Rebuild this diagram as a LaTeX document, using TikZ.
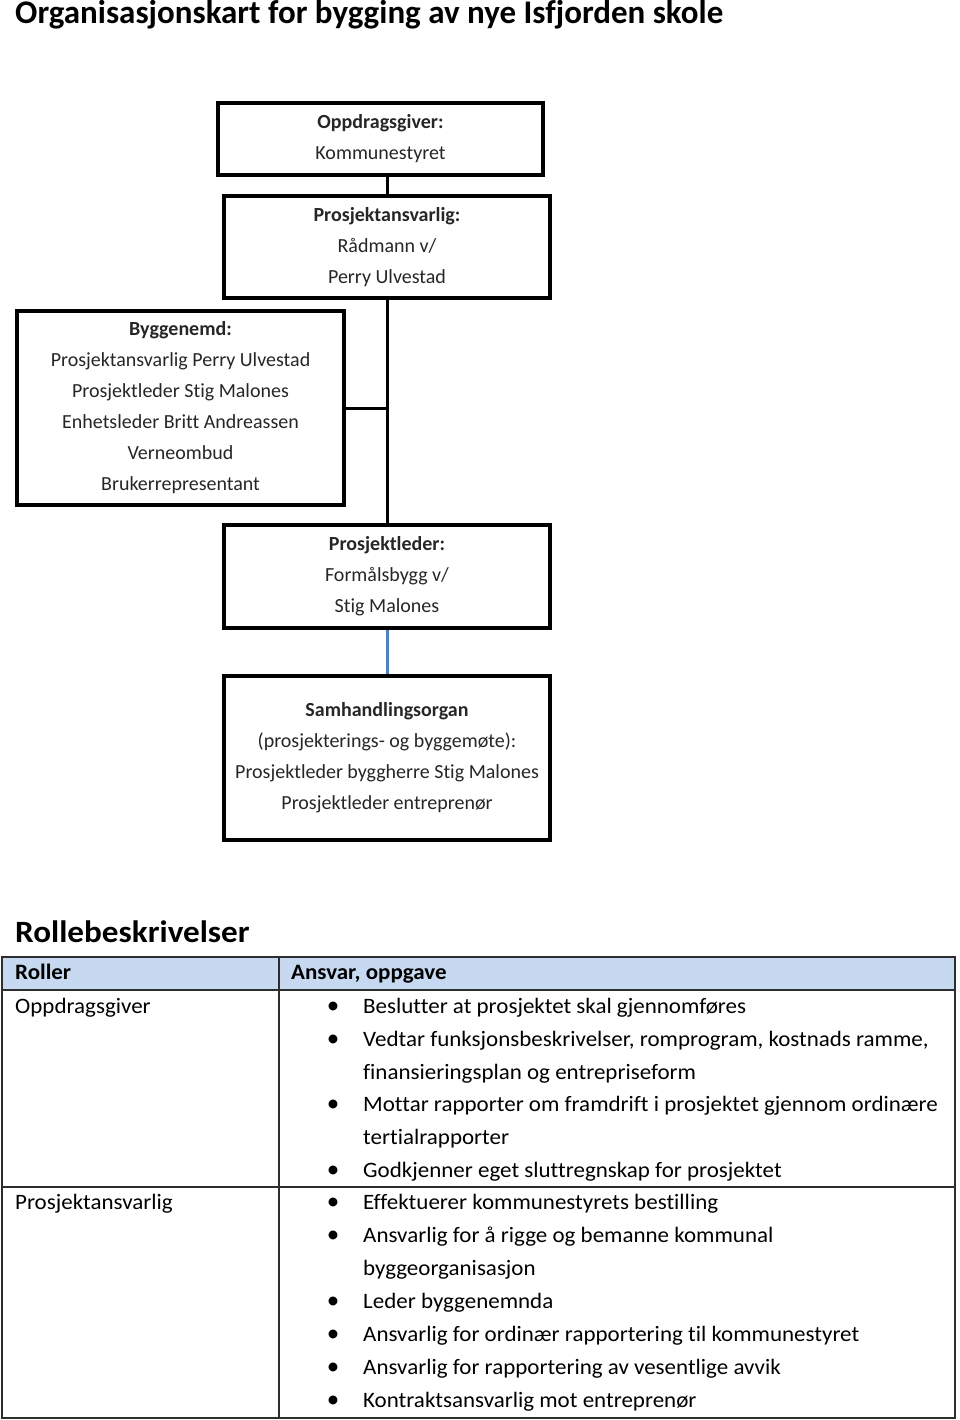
\documentclass[tikz,border=0pt]{standalone}
\usepackage{fontspec}
\setmainfont{Carlito}[Ligatures=NoCommon]
\newfontfamily\tablefont{Carlito}[FakeStretch=1.045, Ligatures=NoCommon]
\newfontfamily\headfont{Carlito}[FakeStretch=1.07, Ligatures=NoCommon]
\usetikzlibrary{positioning}

\definecolor{headfill}{RGB}{198,217,241}
\definecolor{linkblue}{RGB}{79,129,189}
\definecolor{rulegrey}{RGB}{45,45,45}

\tikzset{
  orgbox/.style={draw, line width=3.5pt, inner sep=0pt, align=center,
    text=black!85, font=\fontsize{20}{31}\selectfont},
  orgline/.style={line width=3pt},
  celltext/.style={anchor=base west, inner sep=0pt, font=\tablefont\fontsize{22}{25}\selectfont},
  bulletmark/.style={anchor=base, inner sep=0pt, font=\fontsize{25}{25}\selectfont},
  tablerule/.style={draw=rulegrey, line width=1.5pt}
}

\begin{document}
\begin{tikzpicture}[x=1pt,y=-1pt]
    \useasboundingbox (0,0) rectangle (960,1420);

    % Title
    \node[anchor=base west, inner sep=0pt, font=\bfseries\fontsize{33}{40}\selectfont]
        (title) at (15,24) {Organisasjonskart for bygging av nye Isfjorden skole};

    % Org chart
    \node[orgbox, minimum width=325pt, minimum height=72pt] (oppdrag) at (380.5,139)
        {\textbf{Oppdragsgiver:}\\Kommunestyret};
    \node[orgbox, minimum width=326pt, minimum height=102pt] (ansvarlig) at (387,247)
        {\textbf{Prosjektansvarlig:}\\Rådmann v/\\Perry Ulvestad};
    \node[orgbox, minimum width=327pt, minimum height=194pt] (byggenemd) at (180.5,408)
        {\textbf{Byggenemd:}\\Prosjektansvarlig Perry Ulvestad\\Prosjektleder Stig Malones\\
         Enhetsleder Britt Andreassen\\Verneombud\\Brukerrepresentant};
    \node[orgbox, minimum width=326pt, minimum height=103pt] (leder) at (387,576.5)
        {\textbf{Prosjektleder:}\\Formålsbygg v/\\Stig Malones};
    \node[orgbox, minimum width=326pt, minimum height=164pt] (samhandling) at (387,758)
        {\textbf{Samhandlingsorgan}\\(prosjekterings- og byggemøte):\\
         Prosjektleder byggherre Stig Malones\\Prosjektleder entreprenør};

    \draw[orgline] (oppdrag.south -| ansvarlig.north) -- (ansvarlig.north);
    \draw[orgline] (ansvarlig.south) -- (leder.north);
    \draw[orgline] (byggenemd.east) -- (byggenemd.east -| ansvarlig.south);
    \draw[orgline, linkblue] (leder.south) -- (samhandling.north);

    % Role table
    \node[anchor=base west, inner sep=0pt, font=\headfont\bfseries\fontsize{31}{36}\selectfont]
        (rolletitle) at (15,942) {Rollebeskrivelser};

    \fill[headfill] (2,957) rectangle (955,990);
    \draw[tablerule] (2,957) rectangle (955,1418);
    \draw[tablerule] (2,990) -- (955,990);
    \draw[tablerule] (2,1187) -- (955,1187);
    \draw[tablerule] (279,957) -- (279,1418);

    \node[celltext, font=\tablefont\bfseries\fontsize{22}{25}\selectfont] (hroller) at (15,979) {Roller};
    \node[celltext, font=\tablefont\bfseries\fontsize{22}{25}\selectfont] (hansvar) at (291,979) {Ansvar, oppgave};

    \node[celltext] (oppdragrow) at (15,1013) {Oppdragsgiver};
    \node[celltext] (ansvarligrow) at (15,1209) {Prosjektansvarlig};

    % first row
    \foreach \y/\txt [count=\i] in {1013/{Beslutter at prosjektet skal gjennomføres},
                                    1046/{Vedtar funksjonsbeskrivelser, romprogram, kostnads ramme,},
                                    1079/{finansieringsplan og entrepriseform},
                                    1111/{Mottar rapporter om framdrift i prosjektet gjennom ordinære},
                                    1144/{tertialrapporter},
                                    1177/{Godkjenner eget sluttregnskap for prosjektet}} {
        \node[celltext] (oppline\i) at (363,\y) {\txt};
    }
    \foreach \y [count=\i] in {1013,1046,1111,1177} {
        \node[bulletmark] (oppbullet\i) at (333,\y) {\textbullet};
    }

    % second row
    \foreach \y/\txt [count=\i] in {1209/{Effektuerer kommunestyrets bestilling},
                                    1242/{Ansvarlig for å rigge og bemanne kommunal},
                                    1275/{byggeorganisasjon},
                                    1308/{Leder byggenemnda},
                                    1341/{Ansvarlig for ordinær rapportering til kommunestyret},
                                    1374/{Ansvarlig for rapportering av vesentlige avvik},
                                    1407/{Kontraktsansvarlig mot entreprenør}} {
        \node[celltext] (ansline\i) at (363,\y) {\txt};
    }
    \foreach \y [count=\i] in {1209,1242,1308,1341,1374,1407} {
        \node[bulletmark] (ansbullet\i) at (333,\y) {\textbullet};
    }
\end{tikzpicture}
\end{document}
